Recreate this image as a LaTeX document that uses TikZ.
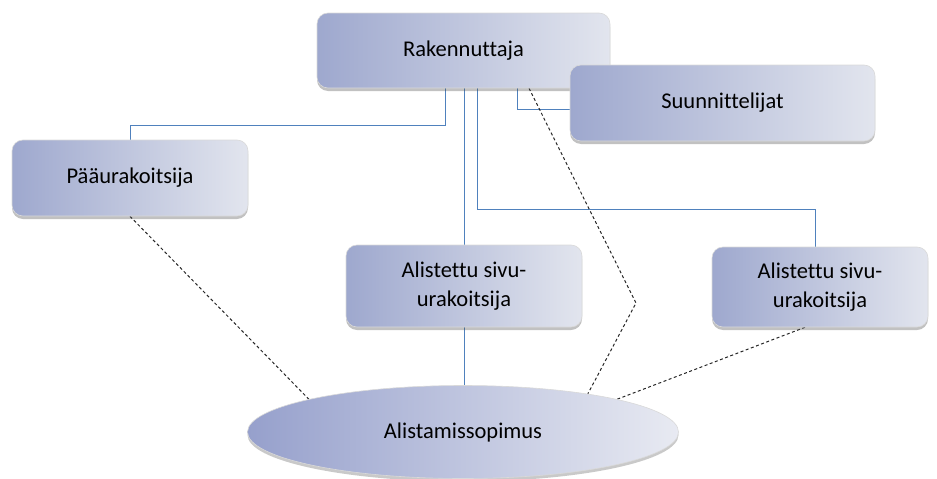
\documentclass[tikz,border=0pt]{standalone}
\usepackage{fontspec}
\setmainfont{Carlito}[Ligatures=CommonOff]
\usetikzlibrary{shapes.geometric,shadows,backgrounds,calc}
\definecolor{boxL}{RGB}{158,168,206}
\definecolor{boxR}{RGB}{226,229,238}
\definecolor{ellL}{RGB}{150,160,204}
\definecolor{ellR}{RGB}{232,234,242}
\definecolor{connblue}{RGB}{79,129,189}
\begin{document}
\begin{tikzpicture}[x=1pt,y=-1pt,
  boxnode/.style={rectangle, rounded corners=11pt, left color=boxL, right color=boxR,
    draw=white!85!black, line width=0.6pt,
    drop shadow={shadow xshift=0pt, shadow yshift=-3pt, opacity=0.35, fill=black!70},
    font=\fontsize{22.5}{29}\selectfont, align=center, inner sep=0pt, text=black},
  ellnode/.style={ellipse, left color=ellL, right color=ellR,
    draw=white!85!black, line width=0.6pt,
    drop shadow={shadow xshift=0pt, shadow yshift=-3pt, opacity=0.3, fill=black!70},
    font=\fontsize{22.5}{29}\selectfont, inner sep=0pt, text=black},
  connline/.style={draw=connblue, line width=1pt},
  dashline/.style={draw=black!85, line width=1pt, dash pattern=on 3pt off 2.5pt}]
\useasboundingbox (0,0) rectangle (937,479);

\node[boxnode, minimum width=293pt, minimum height=75pt] (rak) at (463.5,50.5) {Rakennuttaja};
\node[boxnode, minimum width=305pt, minimum height=76pt] (suun) at (722.5,103) {Suunnittelijat};
\node[boxnode, minimum width=236pt, minimum height=76pt] (paa) at (130,178) {Pääurakoitsija};
\node[boxnode, minimum width=236pt, minimum height=82pt] (al1) at (464,286) {Alistettu sivu-\\urakoitsija};
\node[boxnode, minimum width=216pt, minimum height=80pt] (al2) at (820,287) {Alistettu sivu-\\urakoitsija};
\node[ellnode, minimum width=431pt, minimum height=93pt] (ell) at (463,432) {Alistamissopimus};
\coordinate (zig) at (636,303);

\begin{scope}[on background layer]
\draw[connline] (rak.south -| 445,0) |- (paa.north |- 0,125) -- (paa.north);
\draw[connline] (rak.south -| al1.north) -- (al1.north);
\draw[connline] (al1.south) -- (ell.north -| al1.south);
\draw[connline] (rak.south -| 477,0) |- (815,209) -- (al2.north -| 815,0);
\draw[connline] (rak.south -| 517,0) |- (suun.west |- 0,109);
\draw[dashline] (rak.south -| 529,0) -- (zig) -- (ell.17);
\draw[dashline] (paa.south) -- (ell.168);
\draw[dashline] ([xshift=-15pt]al2.south) -- (ell.12);
\end{scope}
\end{tikzpicture}
\end{document}
